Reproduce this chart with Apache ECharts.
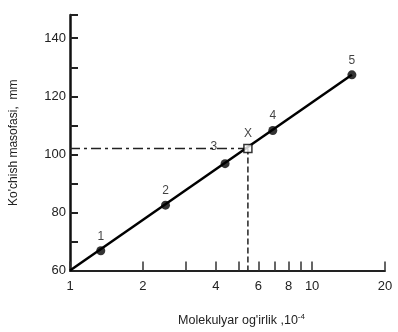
<!DOCTYPE html>
<html><head><meta charset="utf-8">
<script src="https://cdn.jsdelivr.net/npm/echarts@6/dist/echarts.min.js"></script>
<style>html,body{margin:0;padding:0;background:#fff}#c{width:398px;height:332px}</style>
</head><body><div id="c"></div>
<script>
// Data (x = molecular weight ×10^-4, y = migration distance, mm)
var pointLabels = ['1', '2', '3', '4', '5'];
var pointX = [1.34, 2.48, 4.37, 6.88, 14.6];
var pointY = [66.8, 82.5, 96.8, 108.2, 127.4];
var unknownLabel = 'X';
var unknownX = 5.43;
var unknownY = 102;
var fitX = [1, 14.6];
var fitY = [60, 127.4];
var xTickValues = [1, 2, 3, 4, 5, 6, 7, 8, 9, 10, 20];
var xLabelValues = [1, 2, 4, 6, 8, 10, 20];
var yLabelValues = [60, 80, 100, 120, 140];

var L = function (v) { return Math.log10(v); };
var chart = echarts.init(document.getElementById('c'), null, {renderer: 'canvas'});
var font = 'Liberation Sans, Arial, sans-serif';

chart.setOption({
  animation: false,
  backgroundColor: '#fff',
  grid: {left: 68, right: 13, top: 15, bottom: 57},
  xAxis: {
    type: 'value', min: 0, max: L(20),
    name: "Molekulyar og'irlik ,10{s|-4}",
    nameLocation: 'middle', nameGap: 42,
    nameTextStyle: {color: '#222', fontSize: 12.5, fontFamily: font, padding: [0, 0, 0, 28],
      rich: {s: {fontSize: 8, verticalAlign: 'top', padding: [0, 0, 8, 0], color: '#222'}}},
    axisLine: {lineStyle: {color: '#222', width: 2}},
    axisTick: {inside: true, length: 9, customValues: xTickValues.map(L), lineStyle: {color: '#333', width: 1.5}},
    axisLabel: {customValues: xLabelValues.map(L), color: '#222', fontSize: 13, fontFamily: font, margin: 9,
      formatter: function (v) { return String(Math.round(Math.pow(10, v))); }},
    splitLine: {show: false}
  },
  yAxis: {
    type: 'value', min: 60, max: 148, interval: 10,
    name: "Ko'chish masofasi,  mm",
    nameLocation: 'middle', nameGap: 50,
    nameTextStyle: {color: '#222', fontSize: 12, fontFamily: font},
    axisLine: {lineStyle: {color: '#111', width: 2.5}},
    axisTick: {inside: true, length: 8, lineStyle: {color: '#222', width: 2}},
    axisLabel: {customValues: yLabelValues, color: '#222', fontSize: 13, fontFamily: font, margin: 4},
    splitLine: {show: false}
  },
  series: [
    {
      type: 'line', name: 'fit', silent: true,
      data: fitX.map(function (x, i) { return [L(x), fitY[i]]; }),
      showSymbol: false, lineStyle: {color: '#000', width: 2.5}, z: 3
    },
    {
      type: 'line', name: 'hline', silent: true,
      data: [[L(1), unknownY], [L(unknownX), unknownY]],
      showSymbol: false, lineStyle: {color: '#222', width: 1.5, type: [10, 4, 3, 4]}, z: 2
    },
    {
      type: 'line', name: 'vline', silent: true,
      data: [[L(unknownX), unknownY], [L(unknownX), 60]],
      showSymbol: false, lineStyle: {color: '#222', width: 1.5, type: [6, 3]}, z: 2
    },
    {
      type: 'scatter', name: 'points',
      data: pointX.map(function (x, i) {
        return {value: [L(x), pointY[i]], name: pointLabels[i],
          label: i === 2 ? {position: [-10, -18]} : {}};
      }),
      symbol: 'circle', symbolSize: 9, itemStyle: {color: '#000'},
      label: {show: true, position: 'top', distance: 4, formatter: '{b}', color: '#111', fontSize: 12, fontFamily: font},
      z: 5
    },
    {
      type: 'scatter', name: 'unknown',
      data: [{value: [L(unknownX), unknownY], name: unknownLabel}],
      symbol: 'rect', symbolSize: 8, itemStyle: {color: '#fff', borderColor: '#000', borderWidth: 1.5},
      label: {show: true, position: 'top', distance: 4, formatter: '{b}', color: '#111', fontSize: 12, fontFamily: font},
      z: 6
    }
  ]
});
</script></body></html>
